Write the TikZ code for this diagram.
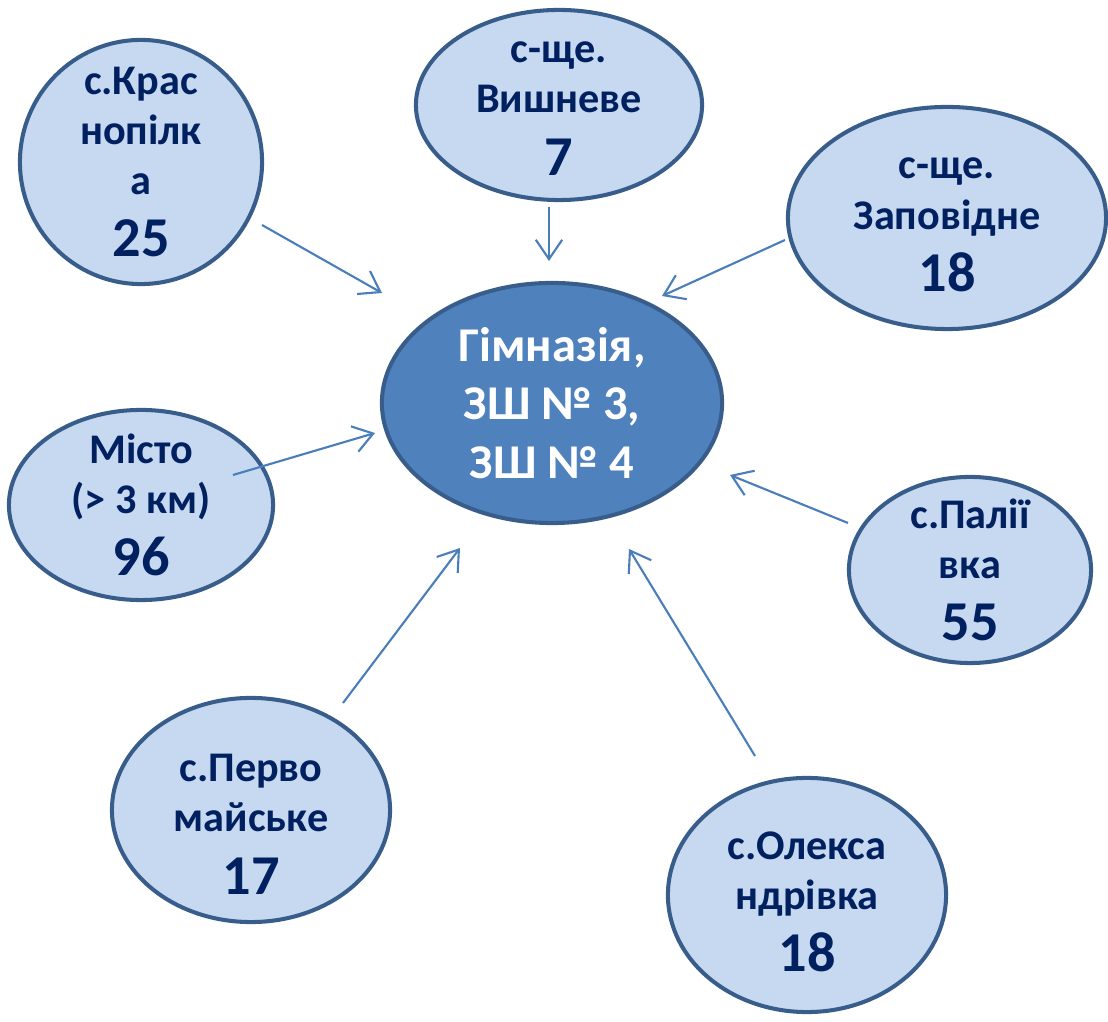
\documentclass[tikz,border=0pt]{standalone}
\usepackage{fontspec}
\setmainfont{Carlito}
\usetikzlibrary{shapes.geometric,arrows.meta}

\definecolor{villfill}{RGB}{198,217,241}
\definecolor{villedge}{RGB}{56,93,138}
\definecolor{schoolfill}{RGB}{79,129,189}
\definecolor{navytext}{RGB}{0,32,96}
\definecolor{arrowblue}{RGB}{74,126,187}

\newcommand{\pupils}[1]{\\[3.4pt]{\fontsize{16}{18}\selectfont #1}}

\tikzset{
  village/.style={ellipse, draw=villedge, line width=1.15pt, fill=villfill, inner sep=0pt},
  vtext/.style={text=navytext, font=\fontsize{12}{14.3}\selectfont\bfseries, align=center},
  school/.style={ellipse, draw=villedge, line width=1.15pt, fill=schoolfill, inner sep=0pt},
  stext/.style={text=white, font=\fontsize{13.8}{16.6}\selectfont\bfseries, align=center},
  flow/.style={draw=arrowblue, line width=0.6pt, -{Straight Barb[length=5.5pt,width=7.5pt]}}
}

\begin{document}
\begin{tikzpicture}[x=0.01cm, y=-0.01cm]
  \useasboundingbox (0,0) rectangle (1108,1022);

  % Nodes

  \node[school, minimum width=3.40cm, minimum height=2.40cm,
        label={[stext]center:Гімназія,\\ЗШ № 3,\\ЗШ № 4}] (gym) at (552,403) {}; %
  \node[village, minimum width=2.42cm, minimum height=2.44cm,
        label={[vtext]center:с.Крас\\нопілк\\а\pupils{25}}] (kras) at (141,162) {}; %
  \node[village, minimum width=2.86cm, minimum height=1.90cm,
        label={[vtext, yshift=-1pt]center:с-ще.\\Вишневе\pupils{7}}] (vysh) at (559,105) {}; %
  \node[village, minimum width=3.18cm, minimum height=2.22cm,
        label={[vtext, yshift=-2pt]center:с-ще.\\Заповідне\pupils{18}}] (zap) at (947,218) {}; %
  \node[village, minimum width=2.64cm, minimum height=1.90cm,
        label={[vtext]center:Місто\\(> 3 км)\pupils{96}}] (misto) at (141,505) {}; %
  \node[village, minimum width=2.42cm, minimum height=1.86cm,
        label={[vtext]center:с.Палії\\вка\pupils{55}}] (pal) at (970,570) {}; %
  \node[village, minimum width=2.78cm, minimum height=2.24cm,
        label={[vtext, yshift=-4pt]center:с.Перво\\майське\pupils{17}}] (perv) at (251,810) {}; %
  \node[village, minimum width=2.78cm, minimum height=2.34cm,
        label={[vtext, yshift=-2pt]center:с.Олекса\\ндрівка\pupils{18}}] (oleks) at (807,895) {}; %

  % Arrow ends
  \coordinate (kras-s) at (262,225);  \coordinate (kras-e) at (382,293);
  \coordinate (vysh-s) at (549,207);  \coordinate (vysh-e) at (549,261);
  \coordinate (zap-s) at (785,240);   \coordinate (zap-e) at (662,296);
  \coordinate (misto-s) at (233,475); \coordinate (misto-e) at (375,433);
  \coordinate (pal-s) at (848,523);   \coordinate (pal-e) at (730,475);
  \coordinate (perv-s) at (343,703);  \coordinate (perv-e) at (460,548);
  \coordinate (oleks-s) at (755,756); \coordinate (oleks-e) at (629,549);

  % Edges
  \draw[flow] (kras-s) -- (kras-e); \draw[flow] (vysh-s) -- (vysh-e);
  \draw[flow] (zap-s) -- (zap-e); \draw[flow] (misto-s) -- (misto-e);
  \draw[flow] (pal-s) -- (pal-e); \draw[flow] (perv-s) -- (perv-e);
  \draw[flow] (oleks-s) -- (oleks-e);
\end{tikzpicture}
\end{document}
